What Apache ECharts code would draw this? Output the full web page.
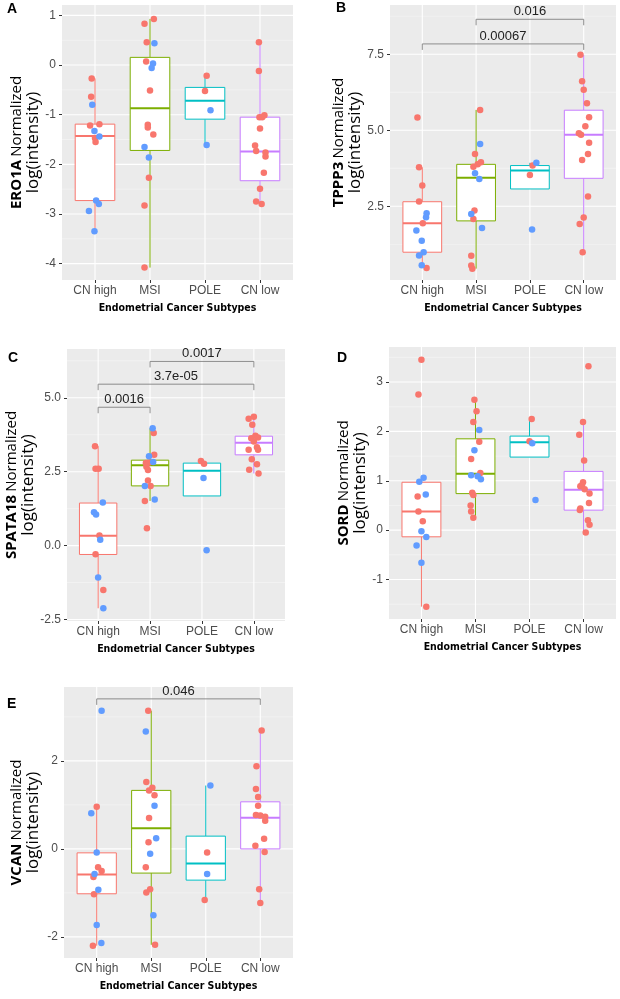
<!DOCTYPE html>
<html>
<head>
<meta charset="utf-8">
<script src="https://cdn.jsdelivr.net/npm/echarts@6/dist/echarts.min.js"></script>
<style>
html,body{margin:0;padding:0;background:#fff;}
#chart{width:620px;height:999px;}
</style>
</head>
<body>
<div id="chart"></div>
<script>
// ---------------- DATA ----------------
const CATS = ['CN high', 'MSI', 'POLE', 'CN low'];
const X_TITLE = 'Endometrial Cancer Subtypes';

// points: [category (1-4), jitter offset, value, group (0 = red, 1 = blue)]
const eroPoints = [
  [1,-0.06,-0.27,0],[1,-0.07,-0.64,0],[1,-0.05,-0.80,1],[1,-0.09,-1.22,0],[1,0.08,-1.19,0],[1,-0.01,-1.33,1],[1,0.08,-1.44,1],[1,0.00,-1.47,0],[1,0.01,-1.55,0],[1,0.02,-2.73,1],[1,0.07,-2.80,1],[1,-0.11,-2.94,1],[1,-0.01,-3.35,1],
  [2,-0.10,0.83,0],[2,0.07,0.93,0],[2,-0.06,0.46,0],[2,0.08,0.44,1],[2,-0.07,0.07,0],[2,0.055,0.03,1],[2,0.03,-0.06,1],[2,0.00,-0.51,0],[2,-0.04,-1.20,0],[2,-0.04,-1.26,0],[2,0.06,-1.40,0],[2,-0.10,-1.65,1],[2,-0.02,-1.86,1],[2,-0.02,-2.27,0],[2,-0.10,-2.83,0],[2,-0.10,-4.08,0],
  [3,0.03,-0.215,0],[3,0.00,-0.52,0],[3,0.10,-0.91,1],[3,0.03,-1.61,1],
  [4,-0.02,0.46,0],[4,-0.02,-0.12,0],[4,-0.01,-1.05,0],[4,0.04,-1.05,0],[4,0.08,-1.01,0],[4,0.00,-1.28,0],[4,-0.09,-1.62,0],[4,-0.07,-1.73,0],[4,0.10,-1.76,0],[4,0.10,-1.84,0],[4,0.07,-2.17,0],[4,0.00,-2.49,0],[4,-0.07,-2.75,0],[4,0.03,-2.80,0]
];
// boxes: [lower whisker, Q1, median, Q3, upper whisker] per category
const eroBoxes = [[-3.35,-2.73,-1.43,-1.19,-0.27],[-4.08,-1.72,-0.87,0.155,0.93],[-1.61,-1.09,-0.72,-0.45,-0.215],[-2.80,-2.33,-1.74,-1.05,0.46]];
const eroBrackets = [];
const eroTicks = [-4,-3,-2,-1,0,1];
const eroTickLabels = ['-4','-3','-2','-1','0','1'];
const eroMinor = [-3.5,-2.5,-1.5,-0.5,0.5];

const tpppPoints = [
  [1,-0.09,5.42,0],[1,-0.06,3.78,0],[1,0.00,3.18,0],[1,-0.06,2.66,0],[1,0.08,2.27,1],[1,0.07,2.14,1],[1,0.01,1.94,0],[1,-0.11,1.70,1],[1,-0.01,1.37,1],[1,0.025,0.99,1],[1,-0.06,0.88,1],[1,-0.01,0.56,1],[1,0.08,0.47,0],
  [2,0.075,5.67,0],[2,0.075,4.55,1],[2,-0.02,4.22,0],[2,0.09,3.95,0],[2,-0.05,3.80,0],[2,0.03,3.88,0],[2,-0.02,3.59,1],[2,0.06,3.40,1],[2,-0.03,2.36,0],[2,-0.09,2.25,1],[2,-0.05,2.08,0],[2,0.11,1.79,1],[2,-0.09,0.87,0],[2,-0.09,0.55,0],[2,-0.07,0.45,0],
  [3,0.05,3.84,0],[3,0.12,3.93,1],[3,0.00,3.53,0],[3,0.04,1.74,1],
  [4,-0.06,7.48,0],[4,-0.03,6.61,0],[4,0.00,6.33,0],[4,0.06,5.89,0],[4,0.10,5.43,0],[4,0.03,5.13,0],[4,-0.09,4.90,0],[4,-0.05,4.85,0],[4,0.10,4.59,0],[4,0.08,4.22,0],[4,-0.03,4.02,0],[4,0.08,2.82,0],[4,0.00,2.13,0],[4,-0.075,1.92,0],[4,-0.02,0.99,0]
];
const tpppBoxes = [[0.47,0.99,1.94,2.65,3.78],[0.45,2.02,3.44,3.88,5.67],[3.53,3.07,3.68,3.84,3.93],[0.99,3.42,4.85,5.66,7.48]];
const tpppBrackets = [[2,4,8.65,'0.016'],[1,4,7.84,'0.00067']];
const tpppTicks = [2.5,5.0,7.5];
const tpppTickLabels = ['2.5','5.0','7.5'];
const tpppMinor = [1.25,3.75,6.25,8.75];

const spataPoints = [
  [1,-0.06,3.36,0],[1,-0.05,2.60,0],[1,0.01,2.60,0],[1,0.09,1.46,1],[1,-0.08,1.13,1],[1,-0.04,1.05,1],[1,0.025,0.34,0],[1,0.04,0.20,1],[1,-0.05,-0.29,0],[1,0.00,-1.08,1],[1,0.10,-1.50,0],[1,0.10,-2.12,1],
  [2,0.05,3.97,1],[2,0.07,3.81,0],[2,-0.02,3.02,1],[2,0.08,3.07,0],[2,0.06,2.83,1],[2,-0.08,2.79,0],[2,-0.02,2.81,0],[2,-0.07,2.67,0],[2,-0.04,2.56,0],[2,-0.04,2.20,0],[2,-0.10,2.02,1],[2,0.01,2.02,0],[2,-0.10,1.51,0],[2,0.09,1.56,1],[2,-0.06,0.59,0],
  [3,-0.02,2.86,0],[3,0.04,2.77,0],[3,0.03,2.29,1],[3,0.09,-0.16,1],
  [4,-0.10,4.29,0],[4,0.00,4.36,0],[4,-0.03,4.09,0],[4,-0.05,3.63,0],[4,0.03,3.72,0],[4,0.08,3.66,0],[4,0.00,3.52,0],[4,0.06,3.33,0],[4,0.08,3.24,0],[4,-0.10,3.24,0],[4,-0.04,2.92,0],[4,0.06,2.75,0],[4,-0.09,2.57,0],[4,0.09,2.44,0]
];
const spataBoxes = [[-2.12,-0.30,0.33,1.44,3.36],[1.51,2.02,2.72,2.89,3.97],[2.29,1.68,2.53,2.79,2.86],[2.44,3.07,3.48,3.70,4.36]];
const spataBrackets = [[2,4,6.23,'0.0017'],[1,4,5.46,'3.7e-05'],[1,2,4.68,'0.0016']];
const spataTicks = [-2.5,0,2.5,5.0];
const spataTickLabels = ['-2.5','0.0','2.5','5.0'];
const spataMinor = [-1.25,1.25,3.75,6.25];

const sordPoints = [
  [1,0.00,3.45,0],[1,-0.055,2.75,0],[1,0.04,1.06,1],[1,-0.04,0.98,1],[1,-0.07,0.68,0],[1,0.08,0.72,1],[1,-0.055,0.38,0],[1,0.025,0.18,0],[1,0.00,-0.02,1],[1,0.09,-0.14,1],[1,-0.09,-0.31,1],[1,0.00,-0.66,1],[1,0.09,-1.55,0],
  [2,-0.02,2.64,0],[2,0.02,2.41,0],[2,-0.04,2.19,0],[2,0.07,2.03,1],[2,0.07,1.79,0],[2,-0.02,1.62,1],[2,-0.08,1.44,0],[2,0.09,1.16,0],[2,-0.08,1.11,1],[2,0.04,1.09,1],[2,0.10,1.03,1],[2,-0.06,0.76,0],[2,-0.04,0.71,0],[2,-0.09,0.50,0],[2,-0.08,0.38,0],[2,-0.04,0.25,0],
  [3,0.04,2.25,0],[3,0.00,1.80,0],[3,0.05,1.76,1],[3,0.11,0.61,1],
  [4,0.09,3.32,0],[4,-0.01,2.19,0],[4,-0.08,1.93,0],[4,0.01,1.41,0],[4,-0.01,0.97,0],[4,-0.06,0.89,0],[4,-0.03,0.91,0],[4,0.02,0.83,0],[4,0.11,0.74,0],[4,0.10,0.55,0],[4,-0.07,0.41,0],[4,-0.06,0.44,0],[4,0.08,0.20,0],[4,0.11,0.11,0],[4,0.04,-0.05,0]
];
const sordBoxes = [[-1.55,-0.135,0.38,0.97,1.06],[0.25,0.74,1.14,1.85,2.64],[1.76,1.48,1.78,1.905,2.25],[-0.05,0.405,0.82,1.19,2.19]];
const sordBrackets = [];
const sordTicks = [-1,0,1,2,3];
const sordTickLabels = ['-1','0','1','2','3'];
const sordMinor = [-1.5,-0.5,0.5,1.5,2.5,3.5];

const vcanPoints = [
  [1,0.09,3.14,1],[1,0.00,0.96,0],[1,-0.10,0.81,1],[1,0.00,-0.08,1],[1,0.025,-0.42,0],[1,0.09,-0.50,0],[1,-0.04,-0.57,1],[1,-0.06,-0.64,0],[1,0.03,-0.93,1],[1,-0.05,-1.03,0],[1,0.00,-1.73,1],[1,0.085,-2.14,1],[1,-0.07,-2.20,0],
  [2,-0.055,3.14,0],[2,-0.10,2.67,1],[2,-0.09,1.52,0],[2,0.02,1.39,0],[2,-0.04,1.33,0],[2,0.06,1.22,0],[2,0.06,0.98,1],[2,-0.04,0.70,0],[2,0.09,0.24,1],[2,-0.05,0.15,0],[2,-0.02,-0.11,1],[2,-0.10,-0.42,0],[2,-0.02,-0.92,0],[2,-0.09,-0.99,0],[2,0.04,-1.51,1],[2,0.07,-2.18,0],
  [3,0.085,1.44,1],[3,0.025,-0.08,0],[3,0.025,-0.57,1],[3,-0.02,-1.16,0],
  [4,0.025,2.69,0],[4,-0.07,1.88,0],[4,-0.08,1.36,0],[4,-0.04,1.18,0],[4,-0.04,0.98,0],[4,-0.08,0.77,0],[4,0.00,0.76,0],[4,0.09,0.73,0],[4,0.09,0.64,0],[4,0.07,0.23,0],[4,-0.09,0.07,0],[4,0.08,-0.07,0],[4,-0.02,-0.92,0],[4,0.00,-1.23,0]
];
const vcanBoxes = [[-2.20,-1.02,-0.58,-0.09,0.96],[-2.18,-0.55,0.47,1.33,3.14],[-1.16,-0.71,-0.33,0.29,1.44],[-1.23,0.00,0.71,1.07,2.69]];
const vcanBrackets = [[1,4,3.41,'0.046']];
const vcanTicks = [-2,0,2];
const vcanTickLabels = ['-2','0','2'];
const vcanMinor = [-1,1,3];

// ---------------- STYLE / LAYOUT ----------------
const BOX_COLORS = ['#F8766D', '#7CAE00', '#00BFC4', '#C77CFF'];
const DOT_COLORS = ['#F8766D', '#619CFF'];
const FONT = "'Liberation Sans', Arial, sans-serif";
const TFONT = "'Open Sans', 'Liberation Sans', sans-serif";

const panels = [
  {letter:'A', gene:'ERO1A', points:eroPoints, boxes:eroBoxes, brackets:eroBrackets, ticks:eroTicks, tickLabels:eroTickLabels, minor:eroMinor,
   grid:{left:62, top:5, width:231, height:275}, yMin:-4.33, yMax:1.21, nameGap:18, lp:[7,2]},
  {letter:'B', gene:'TPPP3', points:tpppPoints, boxes:tpppBoxes, brackets:tpppBrackets, ticks:tpppTicks, tickLabels:tpppTickLabels, minor:tpppMinor,
   grid:{left:390, top:5, width:226, height:275}, yMin:0.076, yMax:9.12, nameGap:20, lp:[336,1]},
  {letter:'C', gene:'SPATA18', points:spataPoints, boxes:spataBoxes, brackets:spataBrackets, ticks:spataTicks, tickLabels:spataTickLabels, minor:spataMinor,
   grid:{left:67, top:349, width:218, height:272}, yMin:-2.55, yMax:6.65, nameGap:25, lp:[8,351]},
  {letter:'D', gene:'SORD', points:sordPoints, boxes:sordBoxes, brackets:sordBrackets, ticks:sordTicks, tickLabels:sordTickLabels, minor:sordMinor,
   grid:{left:389, top:347, width:227, height:272}, yMin:-1.80, yMax:3.71, nameGap:19, lp:[337,351]},
  {letter:'E', gene:'VCAN', points:vcanPoints, boxes:vcanBoxes, brackets:vcanBrackets, ticks:vcanTicks, tickLabels:vcanTickLabels, minor:vcanMinor,
   grid:{left:64, top:687, width:229, height:271}, yMin:-2.48, yMax:3.68, nameGap:22, lp:[7,697]}
];

const grids = [], xAxes = [], yAxes = [], series = [], titles = [];

panels.forEach((p, pi) => {
  grids.push(Object.assign({show:true, backgroundColor:'#EBEBEB', borderWidth:0, containLabel:false}, p.grid));
  titles.push({text:p.letter, left:p.lp[0], top:p.lp[1], padding:0,
    textStyle:{fontFamily:FONT, fontSize:14, fontWeight:'bold', color:'#000'}});
  xAxes.push({
    gridIndex:pi, type:'value', min:0.4, max:4.6,
    splitLine:{show:false}, axisLine:{show:false, onZero:false},
    axisTick:{show:true, length:3, customValues:[1,2,3,4], lineStyle:{color:'#333', width:1}},
    axisLabel:{customValues:[1,2,3,4], formatter:(v) => CATS[Math.round(v) - 1],
      color:'#4D4D4D', fontSize:12, fontFamily:FONT, margin:5},
    name:X_TITLE, nameLocation:'middle', nameGap:23,
    nameTextStyle:{fontFamily:"'DejaVu Sans Condensed', sans-serif", fontWeight:'bold', fontSize:10.5, color:'#000'}
  });
  yAxes.push({
    gridIndex:pi, type:'value', min:p.yMin, max:p.yMax,
    splitLine:{show:false}, axisLine:{show:false, onZero:false},
    axisTick:{show:true, length:3, customValues:p.ticks, lineStyle:{color:'#333', width:1}},
    axisLabel:{customValues:p.ticks, color:'#4D4D4D', fontSize:12, fontFamily:FONT, margin:6,
      formatter:(v) => { const k = p.ticks.findIndex(t => Math.abs(t - v) < 1e-6); return k >= 0 ? p.tickLabels[k] : ''; }},
    name:'{g|' + p.gene + '} {n|Normalized}\n{l|log(intensity)}',
    nameLocation:'middle', nameRotate:90, nameGap:p.nameGap,
    nameTextStyle:{fontFamily:TFONT, color:'#000', align:'center', lineHeight:16,
      rich:{
        g:{fontFamily:TFONT, fontWeight:'bold', fontSize:15, color:'#000', lineHeight:16},
        n:{fontFamily:TFONT, fontSize:15, color:'#000', lineHeight:16},
        l:{fontFamily:TFONT, fontSize:17, color:'#000', lineHeight:17}
      }}
  });

  // gridlines (major horizontal, minor horizontal, vertical at categories)
  const gdata = [];
  p.ticks.forEach(v => gdata.push([0, v]));
  p.minor.forEach(v => gdata.push([1, v]));
  CATS.forEach((c, i) => gdata.push([2, i + 1]));
  series.push({
    type:'custom', xAxisIndex:pi, yAxisIndex:pi, silent:true, z:1, data:gdata,
    renderItem(params, api) {
      const cs = params.coordSys;
      const kind = api.value(0), v = api.value(1);
      if (kind === 2) {
        const x = api.coord([v, p.yMin])[0];
        return {type:'line', shape:{x1:x, y1:cs.y, x2:x, y2:cs.y + cs.height}, style:{stroke:'#FFFFFF', lineWidth:1.1}};
      }
      const y = api.coord([1, v])[1];
      return {type:'line', shape:{x1:cs.x, y1:y, x2:cs.x + cs.width, y2:y},
        style:{stroke: kind === 0 ? '#FFFFFF' : '#F5F5F5', lineWidth: kind === 0 ? 1.1 : 0.7}};
    }
  });

  // boxplots
  series.push({
    type:'custom', xAxisIndex:pi, yAxisIndex:pi, silent:true, z:2,
    data:p.boxes.map((b, i) => [i + 1].concat(b)),
    renderItem(params, api) {
      const c = api.value(0);
      const col = BOX_COLORS[params.dataIndex];
      const w = api.size([0.72, 0])[0];
      const lo = api.coord([c, api.value(1)]), q1 = api.coord([c, api.value(2)]),
            md = api.coord([c, api.value(3)]), q3 = api.coord([c, api.value(4)]),
            hi = api.coord([c, api.value(5)]);
      const cx = lo[0];
      return {type:'group', children:[
        {type:'line', shape:{x1:cx, y1:q3[1], x2:cx, y2:hi[1]}, style:{stroke:col, lineWidth:1}},
        {type:'line', shape:{x1:cx, y1:q1[1], x2:cx, y2:lo[1]}, style:{stroke:col, lineWidth:1}},
        {type:'rect', shape:{x:cx - w / 2, y:q3[1], width:w, height:q1[1] - q3[1]}, style:{fill:'#FFFFFF', stroke:col, lineWidth:1}},
        {type:'line', shape:{x1:cx - w / 2, y1:md[1], x2:cx + w / 2, y2:md[1]}, style:{stroke:col, lineWidth:2}}
      ]};
    }
  });

  // jittered points
  [0, 1].forEach(g => {
    series.push({
      type:'scatter', xAxisIndex:pi, yAxisIndex:pi, z:3, symbol:'circle', symbolSize:6.5,
      itemStyle:{color:DOT_COLORS[g], opacity:1},
      data:p.points.filter(d => d[3] === g).map(d => [d[0] + d[1], d[2]])
    });
  });

  // significance brackets
  if (p.brackets.length) {
    series.push({
      type:'custom', xAxisIndex:pi, yAxisIndex:pi, silent:true, z:4,
      data:p.brackets.map(b => [b[0], b[1], b[2]]),
      renderItem(params, api) {
        const a = api.coord([api.value(0), api.value(2)]);
        const b = api.coord([api.value(1), api.value(2)]);
        const label = p.brackets[params.dataIndex][3];
        return {type:'group', children:[
          {type:'polyline', shape:{points:[[a[0], a[1] + 6], [a[0], a[1]], [b[0], b[1]], [b[0], b[1] + 6]]},
            style:{stroke:'#808080', lineWidth:0.9, fill:null}},
          {type:'text', x:(a[0] + b[0]) / 2, y:a[1] - 1,
            style:{text:label, fontFamily:FONT, fontSize:13, fill:'#222', align:'center', verticalAlign:'bottom'}}
        ]};
      }
    });
  }
});

const chart = echarts.init(document.getElementById('chart'), null, {renderer:'canvas'});
chart.setOption({
  animation:false,
  backgroundColor:'#FFFFFF',
  title:titles,
  grid:grids,
  xAxis:xAxes,
  yAxis:yAxes,
  series:series
});
</script>
</body>
</html>
